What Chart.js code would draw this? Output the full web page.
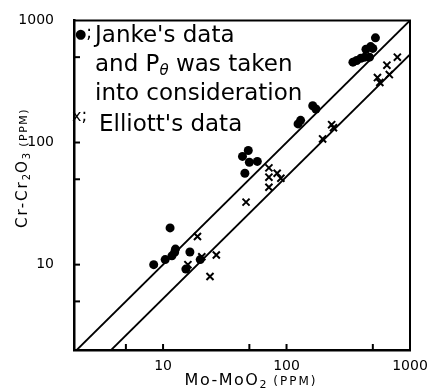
<!DOCTYPE html>
<html>
<head>
<meta charset="utf-8">
<script src="https://cdn.jsdelivr.net/npm/chart.js@4.4.1/dist/chart.umd.min.js"></script>
<style>
  html, body { margin: 0; padding: 0; background: #fff; }
  #wrap { width: 431px; height: 390px; position: relative; }
</style>
</head>
<body>
<div id="wrap"><canvas id="chart"></canvas></div>
<script>
// Janke's data (filled dots)
const jankeX = [8.4, 10.4, 11.4, 11.8, 12.4, 12.6, 16.5, 15.3, 20, 44, 49, 50, 58, 46, 124, 130, 163, 173, 345, 370, 400, 430, 470, 440, 480, 500, 525];
const jankeY = [10, 11, 20, 11.8, 12.6, 13.4, 12.7, 9.2, 11, 77, 86, 69, 70, 56, 142, 152, 200, 188, 455, 470, 490, 500, 500, 580, 610, 590, 720];
// Elliott's data (crosses)
const elliottX = [15.9, 19, 20.6, 27, 24, 47, 72, 84, 72, 90, 72, 196, 232, 240, 545, 570, 680, 650, 790];
const elliottY = [10, 17, 11.6, 12, 8, 32.5, 62, 56, 52, 51, 43, 107, 140, 132, 340, 310, 360, 430, 500];
// the two fitted lines
const upperLineX = [2, 1000];
const upperLineY = [2, 1000];
const lowerLineX = [3.8, 1000];
const lowerLineY = [2, 526];
// ticks
const majorTicks = [10, 100, 1000];
const minorTicks = [5, 50, 500];

const pts = (xs, ys) => xs.map((x, i) => ({ x: x, y: ys[i] }));
const FONT = "'DejaVu Sans', sans-serif";

function setFont(ctx, p) {
  ctx.font = (p.italic ? 'italic ' : '') + p.size + 'px ' + FONT;
  ctx.letterSpacing = (p.ls || 0) + 'px';
}
function drawPieces(ctx, pieces, x, y) {
  pieces.forEach(p => {
    setFont(ctx, p);
    ctx.fillText(p.t, x, y + (p.dy || 0));
    x += ctx.measureText(p.t).width;
  });
  ctx.letterSpacing = '0px';
  return x;
}
function piecesWidth(ctx, pieces) {
  let w = 0;
  pieces.forEach(p => { setFont(ctx, p); w += ctx.measureText(p.t).width; });
  ctx.letterSpacing = '0px';
  return w;
}

const decor = {
  id: 'decor',
  afterDraw(chart) {
    const ctx = chart.ctx;
    const a = chart.chartArea;
    const sx = chart.scales.x, sy = chart.scales.y;
    ctx.save();
    ctx.strokeStyle = '#000';
    ctx.fillStyle = '#000';
    // top and right frame
    ctx.lineWidth = 2;
    ctx.beginPath();
    ctx.moveTo(a.left, a.top); ctx.lineTo(a.right, a.top); ctx.lineTo(a.right, a.bottom);
    ctx.stroke();
    // inward ticks
    majorTicks.concat(minorTicks).forEach(v => {
      const px = sx.getPixelForValue(v);
      if (px < a.right - 2) {
        ctx.beginPath(); ctx.moveTo(px, a.bottom); ctx.lineTo(px, a.bottom - 6); ctx.stroke();
      }
      const py = sy.getPixelForValue(v);
      if (py > a.top + 2) {
        ctx.beginPath(); ctx.moveTo(a.left, py); ctx.lineTo(a.left + 6, py); ctx.stroke();
      }
    });
    // legend text inside the plot
    ctx.textBaseline = 'alphabetic';
    ctx.textAlign = 'left';
    drawPieces(ctx, [{ t: '●', size: 13 }, { t: ';', size: 17 }], 75, 38);
    drawPieces(ctx, [{ t: "Janke's data", size: 23 }], 95, 42);
    drawPieces(ctx, [{ t: 'and P', size: 23 }, { t: 'θ', size: 15, italic: true, dy: 4 }, { t: ' was taken', size: 23 }], 95, 71);
    drawPieces(ctx, [{ t: 'into consideration', size: 23 }], 95, 100);
    drawPieces(ctx, [{ t: 'x', size: 16 }, { t: ';', size: 17 }], 72, 121);
    drawPieces(ctx, [{ t: "Elliott's data", size: 23 }], 99, 131);
    // x axis title
    const xt = [{ t: 'Mo-MoO', size: 16, ls: 1.5 }, { t: '2', size: 11, dy: 3, ls: 1 }, { t: ' (PPM)', size: 12, ls: 2 }];
    drawPieces(ctx, xt, 251 - piecesWidth(ctx, xt) / 2, 385);
    // y axis title
    const yt = [{ t: 'Cr-Cr', size: 15, ls: 2 }, { t: '2', size: 10, dy: 3, ls: 1 }, { t: 'O', size: 15, ls: 2 }, { t: '3', size: 10, dy: 3, ls: 1 }, { t: ' (PPM)', size: 11, ls: 1.5 }];
    ctx.translate(27, 168);
    ctx.rotate(-Math.PI / 2);
    drawPieces(ctx, yt, -piecesWidth(ctx, yt) / 2, 0);
    ctx.restore();
  }
};

function axis(sizeHook) {
  return {
    type: 'logarithmic',
    afterBuildTicks: s => { s.ticks = majorTicks.concat(minorTicks).sort((p, q) => p - q).map(v => ({ value: v })); },
    afterFit: sizeHook,
    grid: { display: false },
    border: { display: true, color: '#000', width: 2.5 },
    ticks: {
      autoSkip: false, maxRotation: 0, color: '#000',
      font: { family: FONT, size: 14 },
      callback: v => majorTicks.includes(v) ? String(v) : ''
    }
  };
}

const xAxis = axis(s => { s.height = 40; });
xAxis.min = 1.9; xAxis.max = 1000; xAxis.ticks.padding = 0;
const yAxis = axis(s => { s.width = 74; });
yAxis.min = 2; yAxis.max = 1000; yAxis.ticks.padding = 12;

new Chart(document.getElementById('chart').getContext('2d'), {
  type: 'scatter',
  data: {
    datasets: [
      { data: pts(upperLineX, upperLineY), showLine: true, pointRadius: 0, borderColor: '#000', borderWidth: 1.8 },
      { data: pts(lowerLineX, lowerLineY), showLine: true, pointRadius: 0, borderColor: '#000', borderWidth: 1.8 },
      { label: "Janke's data", data: pts(jankeX, jankeY), pointStyle: 'circle', pointRadius: 4.5, backgroundColor: '#000', borderColor: '#000', borderWidth: 0 },
      { label: "Elliott's data", data: pts(elliottX, elliottY), pointStyle: 'crossRot', pointRadius: 5, borderColor: '#000', borderWidth: 2 }
    ]
  },
  options: {
    responsive: true,
    maintainAspectRatio: false,
    animation: false,
    layout: { padding: { top: 16, right: 21, left: 0, bottom: 0 } },
    plugins: { legend: { display: false }, tooltip: { enabled: false } },
    scales: { x: xAxis, y: yAxis }
  },
  plugins: [decor]
});
</script>
</body>
</html>
